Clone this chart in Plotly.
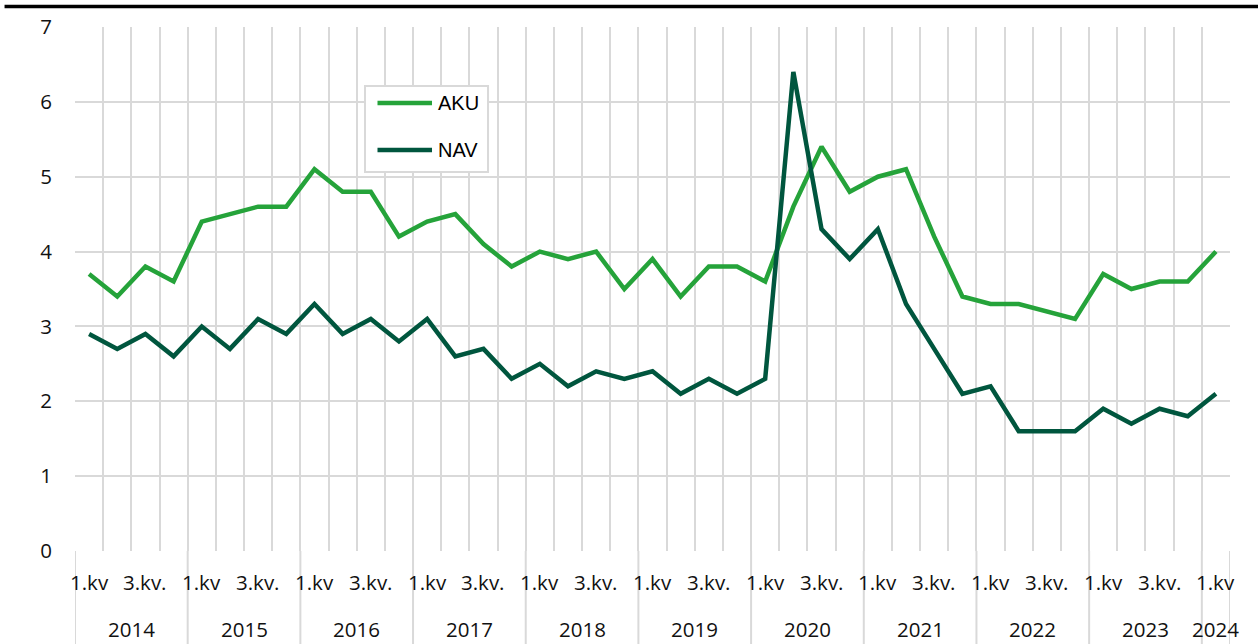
import plotly.graph_objects as go

years = [2014]*4 + [2015]*4 + [2016]*4 + [2017]*4 + [2018]*4 + [2019]*4 + [2020]*4 + [2021]*4 + [2022]*4 + [2023]*4 + [2024]
quarters = [1, 2, 3, 4]*10 + [1]
quarter_labels = {1: "1.kv", 2: "", 3: "3.kv.", 4: ""}

aku = [3.7, 3.4, 3.8, 3.6, 4.4, 4.5, 4.6, 4.6, 5.1, 4.8, 4.8, 4.2, 4.4, 4.5, 4.1, 3.8,
       4.0, 3.9, 4.0, 3.5, 3.9, 3.4, 3.8, 3.8, 3.6, 4.6, 5.4, 4.8, 5.0, 5.1, 4.2, 3.4,
       3.3, 3.3, 3.2, 3.1, 3.7, 3.5, 3.6, 3.6, 4.0]
nav = [2.9, 2.7, 2.9, 2.6, 3.0, 2.7, 3.1, 2.9, 3.3, 2.9, 3.1, 2.8, 3.1, 2.6, 2.7, 2.3,
       2.5, 2.2, 2.4, 2.3, 2.4, 2.1, 2.3, 2.1, 2.3, 6.4, 4.3, 3.9, 4.3, 3.3, 2.7, 2.1,
       2.2, 1.6, 1.6, 1.6, 1.9, 1.7, 1.9, 1.8, 2.1]
series_names = ["AKU", "NAV"]
series_colors = ["#25a33a", "#00563e"]
y_ticks = [0, 1, 2, 3, 4, 5, 6, 7]

FONT = "Open Sans"
FS = 20.5
GRID = "#d9d9d9"
TXT = "#111111"

n = len(years)
xs = list(range(n))

fig = go.Figure()
for name, vals, col in zip(series_names, [aku, nav], series_colors):
    fig.add_trace(go.Scatter(x=xs, y=vals, name=name, mode="lines",
                             line=dict(color=col, width=4.5), showlegend=False))

annotations = []
shapes = []
# quarter labels
for i, q in enumerate(quarters):
    t = quarter_labels[q]
    if t:
        annotations.append(dict(x=i, y=0, xref="x", yref="paper", text=t, showarrow=False,
                                yshift=-31, yanchor="middle", xanchor="center",
                                font=dict(family=FONT, size=FS, color=TXT)))
# year labels and dividers
uniq_years = []
for y in years:
    if y not in uniq_years:
        uniq_years.append(y)
for yr in uniq_years:
    idx = [i for i, v in enumerate(years) if v == yr]
    center = sum(idx) / len(idx)
    annotations.append(dict(x=center, y=0, xref="x", yref="paper", text=str(yr), showarrow=False,
                            yshift=-78, yanchor="middle", xanchor="center",
                            font=dict(family=FONT, size=FS, color=TXT)))
    shapes.append(dict(type="line", xref="x", yref="paper", x0=idx[0] - 0.5, x1=idx[0] - 0.5,
                       y0=0, y1=-0.18, line=dict(color=GRID, width=2)))
shapes.append(dict(type="line", xref="x", yref="paper", x0=n - 0.5, x1=n - 0.5,
                   y0=0, y1=-0.18, line=dict(color=GRID, width=2)))
# top black rule
shapes.append(dict(type="line", xref="paper", yref="paper", x0=-0.061, x1=1.03,
                   y0=1.039, y1=1.039, line=dict(color="black", width=3.5)))

# custom legend box
shapes.append(dict(type="rect", xref="paper", yref="paper", x0=0.2511, x1=0.3576,
                   y0=0.7233, y1=0.8874, line=dict(color=GRID, width=2), fillcolor="white",
                   layer="above"))
leg_y = [0.855, 0.7653]
for name, col, ly in zip(series_names, series_colors, leg_y):
    shapes.append(dict(type="line", xref="paper", yref="paper", x0=0.2619, x1=0.3091,
                       y0=ly, y1=ly, line=dict(color=col, width=4.5), layer="above"))
    annotations.append(dict(x=0.3125, y=ly, xref="paper", yref="paper", text=name,
                            showarrow=False, xanchor="left", yanchor="middle",
                            font=dict(family="Liberation Sans", size=20, color="black")))

fig.update_layout(
    width=1258, height=644,
    margin=dict(l=75, r=28, t=27, b=93, autoexpand=False),
    paper_bgcolor="white", plot_bgcolor="white",
    font=dict(family=FONT, size=FS, color=TXT),
    showlegend=False,
    hovermode=False,
    annotations=annotations,
    shapes=shapes,
    xaxis=dict(range=[-0.5, n - 0.5], tickvals=[i - 0.5 for i in range(n + 1)],
               showticklabels=False, showgrid=True, gridcolor=GRID, gridwidth=2,
               zeroline=False, showline=False, ticks=""),
    yaxis=dict(range=[0, 7], tickvals=y_ticks, showgrid=True, gridcolor=GRID, gridwidth=2,
               zeroline=False, showline=False, ticks="", ticklabelstandoff=22,
               tickfont=dict(family=FONT, size=FS, color=TXT)),
)

fig.write_html("out.html", config={"displayModeBar": False, "staticPlot": True},
               post_script="document.body.style.margin='0';document.body.style.padding='0';"
                           "document.documentElement.style.overflow='hidden';")
